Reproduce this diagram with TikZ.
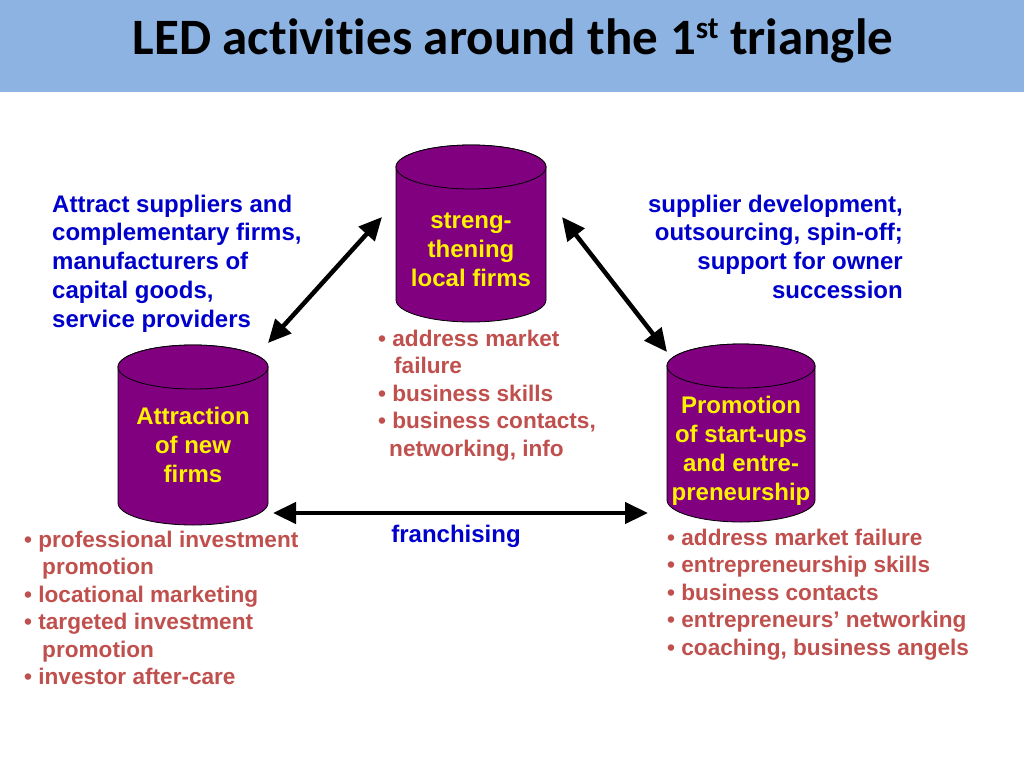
\documentclass[tikz,border=0pt]{standalone}
\usepackage{fontspec}
\setmainfont{Liberation Sans}
\newfontfamily\titlefont{Carlito}[Ligatures=NoCommon]
\usetikzlibrary{arrows.meta}
\definecolor{barblue}{HTML}{8DB3E2}
\definecolor{drumpurple}{HTML}{800080}
\definecolor{noteblue}{HTML}{0000CC}
\definecolor{notered}{HTML}{C0504D}
\tikzset{
  drum/.style={fill=drumpurple, draw=black, line width=0.8pt},
  drumtext/.style={text=yellow, font=\bfseries\fontsize{24}{29}\selectfont, align=center, inner sep=0pt},
  linknote/.style={text=noteblue, font=\bfseries\fontsize{24}{28.8}\selectfont, inner sep=0pt},
  tasklist/.style={text=notered, font=\bfseries\fontsize{22.6}{27.4}\selectfont, align=left, inner sep=0pt, anchor=north west},
  link/.style={{Triangle[length=23pt,width=21pt]}-{Triangle[length=23pt,width=21pt]}, line width=4.5pt}
}
\begin{document}
\begin{tikzpicture}[x=1pt,y=1pt]
\useasboundingbox (0,0) rectangle (1024,-768);
\fill [white] (0,0) rectangle (1024,-768);
\fill [barblue] (0,0) rectangle (1024,-92);
\node (title) [anchor=base, inner sep=0pt, font=\titlefont\bfseries\fontsize{51}{55}\selectfont] at (513,-55)
  {LED activities around the 1\raisebox{17pt}{\fontsize{31}{33}\selectfont st} triangle};
% the three drums
\foreach \cx/\ty/\by/\rx in {471/167/300/75, 193/367/503/75, 741/366/500/74} {
  \filldraw [drum] (\cx-\rx,-\ty) -- (\cx-\rx,-\by)
    arc [start angle=180, end angle=360, x radius=\rx, y radius=22]
    -- (\cx+\rx,-\ty)
    arc [start angle=0, end angle=180, x radius=\rx, y radius=22] -- cycle;
  \draw [drum] (\cx,-\ty) ellipse [x radius=\rx, y radius=22];
}
\node (strengthen) [drumtext] at (471,-250) {streng-\\thening\\local firms};
\node (attraction) [drumtext] at (193,-445) {Attraction\\of new\\firms};
\node (promotion) [drumtext] at (741,-451) {Promotion\\of start-ups\\and entre-\\preneurship};
% notes on the links
\node (suppliers) [linknote, align=left, anchor=north west] at (52,-194.5)
  {Attract suppliers and\\complementary firms,\\manufacturers of\\capital goods,\\service providers};
\node (spinoff) [linknote, align=right, anchor=north east] at (903,-194.5)
  {supplier development,\\outsourcing, spin-off;\\support for owner\\succession};
\node (franchise) [linknote, anchor=base] at (456,-542) {franchising};
% activity lists
\node (strengthlist) [tasklist] at (378,-330)
  {\textbullet\ address market\\\hspace*{16pt}failure\\\textbullet\ business skills\\\textbullet\ business contacts,\\\hspace*{11pt}networking, info};
\node (attractlist) [tasklist] at (24,-531)
  {\textbullet\ professional investment\\\hspace*{18pt}promotion\\\textbullet\ locational marketing\\\textbullet\ targeted investment\\\hspace*{18pt}promotion\\\textbullet\ investor after-care};
\node (promolist) [tasklist] at (667,-529)
  {\textbullet\ address market failure\\\textbullet\ entrepreneurship skills\\\textbullet\ business contacts\\\textbullet\ entrepreneurs’ networking\\\textbullet\ coaching, business angels};
% links
\coordinate (attractNE) at (268,-343);
\coordinate (strengthW) at (382,-217);
\coordinate (strengthE) at (562,-217);
\coordinate (promoNW) at (667,-352);
\coordinate (attractE) at (273,-513);
\coordinate (promoW) at (648,-513);
\draw [link] (attractNE) -- (strengthW);
\draw [link] (strengthE) -- (promoNW);
\draw [link] (attractE) -- (promoW);
\end{tikzpicture}
\end{document}
